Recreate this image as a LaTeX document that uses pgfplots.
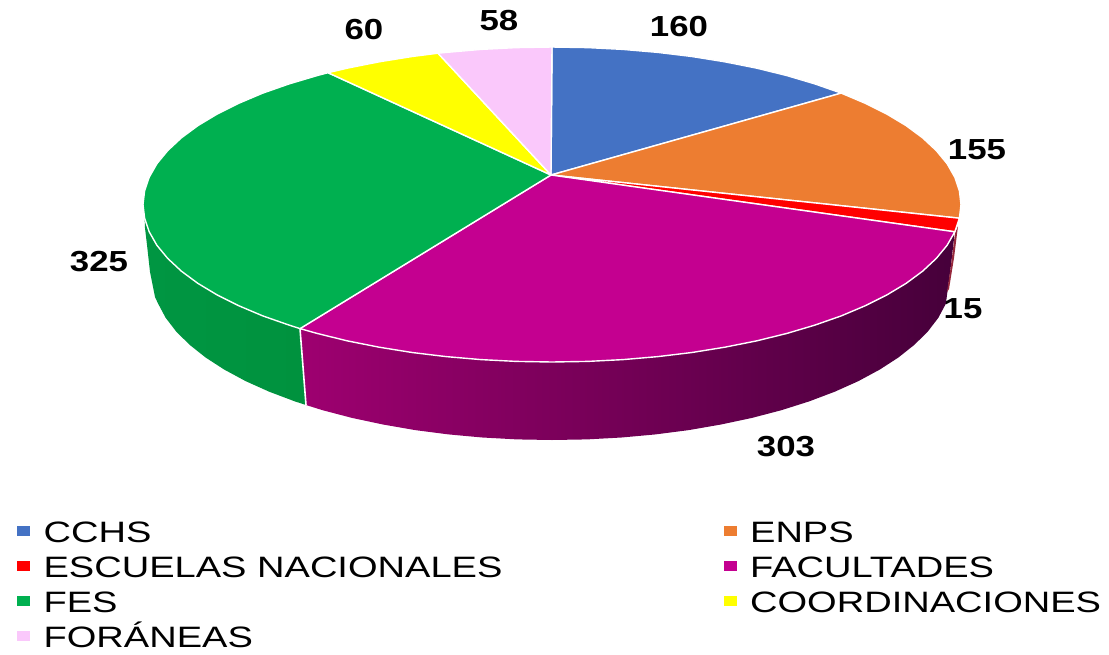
\documentclass[border=0pt]{standalone}
\usepackage{pgfplots}
\pgfplotsset{compat=1.18}
\usepackage{fontspec}
\setmainfont{Liberation Sans}
\newfontfamily\legfont[FakeStretch=1.29]{Liberation Sans}
\newfontfamily\labfont[FakeStretch=1.2,BoldFont={Liberation Sans Bold}]{Liberation Sans}
\definecolor{cchs}{HTML}{4472C4}
\definecolor{enps}{HTML}{ED7D31}
\definecolor{esc}{HTML}{FF0000}
\definecolor{fac}{HTML}{C40090}
\definecolor{fes}{HTML}{00B050}
\definecolor{coord}{HTML}{FFFF00}
\definecolor{fora}{HTML}{FAC8FB}
\definecolor{facL}{RGB}{158,0,112}
\definecolor{facM}{RGB}{104,0,80}
\definecolor{facR}{RGB}{70,0,58}
\definecolor{fesL}{RGB}{0,150,66}
\definecolor{fesM}{RGB}{0,132,56}
\definecolor{fesR}{RGB}{0,146,62}
\begin{document}
\begin{tikzpicture}
\useasboundingbox (0,0) rectangle (554.5pt,327pt);
\begin{axis}[
  scale only axis, width=554.5pt, height=327pt,
  xmin=0, xmax=1109, ymin=0, ymax=654, y dir=reverse,
  axis lines=none, clip=false,
  legend columns=2,
  legend cell align=left,
  legend image code/.code={\fill[#1,draw=none] (0pt,-2.5pt) rectangle (6.5pt,2.5pt);},
  legend style={
    at={(axis cs:17,520)}, anchor=north west, draw=none, fill=none,
    inner sep=0pt, outer sep=0pt, row sep=6.5pt,
    font=\legfont\fontsize{14.75}{17}\selectfont,
    nodes={inner sep=0pt, text height=11pt, text depth=0pt},
    /tikz/every odd column/.append style={column sep=6.8pt},
    /tikz/every even column/.append style={column sep=110.5pt},
  },
]
% side walls
\addplot[forget plot, draw=none, left color=fesL, middle color=fesM, right color=fesR] coordinates {
 (145,228)(144.6,218.2)(149.2,231.8)(156.9,245.3)(167.7,258.4)(181.3,271.1)(197.8,283.3)(216.9,294.8)(238.7,305.7)(262.8,315.9)(289.1,325.1)(300,328.6)
 (306,405)(294.9,401.4)(269.2,391.7)(245.6,381.1)(224.3,369.6)(205.6,357.5)(189.5,344.7)(176.1,331.4)(165.6,317.7)(158.1,303.6)(155,297)(150,272)(147,245)} -- cycle;
\addplot[forget plot, draw=none, left color=facL, middle color=facM, right color=facR] coordinates {
 (300,328.6)(317.4,333.5)(347.5,340.9)(379.2,347.2)(412.1,352.5)(446.1,356.6)(481,359.6)(516.3,361.4)(552,362)(587.7,361.4)(623,359.6)(657.9,356.6)(691.9,352.5)(724.8,347.2)(756.5,340.9)(786.6,333.5)(814.9,325.1)(841.2,315.9)(865.3,305.7)(887.1,294.8)(906.2,283.3)(922.7,271.1)(936.3,258.4)(947.1,245.3)(954.8,231.8)
 (951,265)(947,295)(945.9,303.6)(938.4,317.7)(927.9,331.4)(914.5,344.7)(898.4,357.5)(879.7,369.6)(858.4,381.1)(834.8,391.7)(809.1,401.4)(781.4,410.2)(752,417.9)(721,424.5)(688.8,430.1)(655.5,434.4)(621.5,437.5)(586.9,439.4)(552,440)(517.1,439.4)(482.5,437.5)(448.5,434.4)(415.2,430.1)(383,424.5)(352,417.9)(322.6,410.2)(306,405)} -- cycle;
\addplot[forget plot, draw=none, fill={rgb,255:red,150;green,40;blue,60}] coordinates {
 (958,226)(955,233)(951,265)(947,292)(949,289)(954,258)} -- cycle;
\addplot[forget plot, draw=white, line width=0.8pt] coordinates {(300,328.6)(306,405)};
% top faces
\addplot[draw=white, line width=0.7pt, fill=cchs, line join=round] coordinates {
 (551,175)(552,47)(587.7,47.6)(623,49.4)(657.9,52.4)(691.9,56.5)(724.8,61.8)(756.5,68.1)(786.6,75.5)(814.9,83.9)(841.2,93.1)} -- cycle;
\addlegendentry{CCHS}
\addplot[draw=white, line width=0.7pt, fill=enps, line join=round] coordinates {
 (551,175)(841.2,93.1)(865.3,103.3)(887.1,114.2)(906.2,125.7)(922.7,137.9)(936.3,150.6)(947.1,163.7)(954.8,177.2)(959.4,190.8)(961,204.5)(959.4,218.2)} -- cycle;
\addlegendentry{ENPS}
\addplot[draw=white, line width=0.7pt, fill=esc, line join=round] coordinates {
 (551,175)(959.4,218.2)(954.8,231.8)} -- cycle;
\addlegendentry{ESCUELAS NACIONALES}
\addplot[draw=white, line width=0.7pt, fill=fac, line join=round] coordinates {
 (551,175)(954.8,231.8)(947.1,245.3)(936.3,258.4)(922.7,271.1)(906.2,283.3)(887.1,294.8)(865.3,305.7)(841.2,315.9)(814.9,325.1)(786.6,333.5)(756.5,340.9)(724.8,347.2)(691.9,352.5)(657.9,356.6)(623,359.6)(587.7,361.4)(552,362)(516.3,361.4)(481,359.6)(446.1,356.6)(412.1,352.5)(379.2,347.2)(347.5,340.9)(317.4,333.5)(300,328.6)} -- cycle;
\addlegendentry{FACULTADES}
\addplot[draw=white, line width=0.7pt, fill=fes, line join=round] coordinates {
 (551,175)(300,328.6)(289.1,325.1)(262.8,315.9)(238.7,305.7)(216.9,294.8)(197.8,283.3)(181.3,271.1)(167.7,258.4)(156.9,245.3)(149.2,231.8)(144.6,218.2)(143,204.5)(144.6,190.8)(149.2,177.2)(156.9,163.7)(167.7,150.6)(181.3,137.9)(197.8,125.7)(216.9,114.2)(238.7,103.3)(262.8,93.1)(289.1,83.9)(317.4,75.5)(328,72.7)} -- cycle;
\addlegendentry{FES}
\addplot[draw=white, line width=0.7pt, fill=coord, line join=round] coordinates {
 (551,175)(328,72.7)(347.5,68.1)(379.2,61.8)(412.1,56.5)(438,53.2)} -- cycle;
\addlegendentry{COORDINACIONES}
\addplot[draw=white, line width=0.7pt, fill=fora, line join=round] coordinates {
 (551,175)(438,53.2)(446.1,52.4)(481,49.4)(516.3,47.6)(552,47)} -- cycle;
\addlegendentry{FORÁNEAS}
% value labels
\foreach \x/\y/\t in {679/27/160, 977/150/155, 963/309/15, 786/447/303, 99/262/325, 364/30/60, 499/21/58}{
  \edef\temp{\noexpand\node[font=\noexpand\labfont\noexpand\bfseries\noexpand\fontsize{14.5}{16}\noexpand\selectfont, inner sep=0pt] at (axis cs:\x,\y) {\t};}
  \temp
}
\end{axis}
\end{tikzpicture}
\end{document}
